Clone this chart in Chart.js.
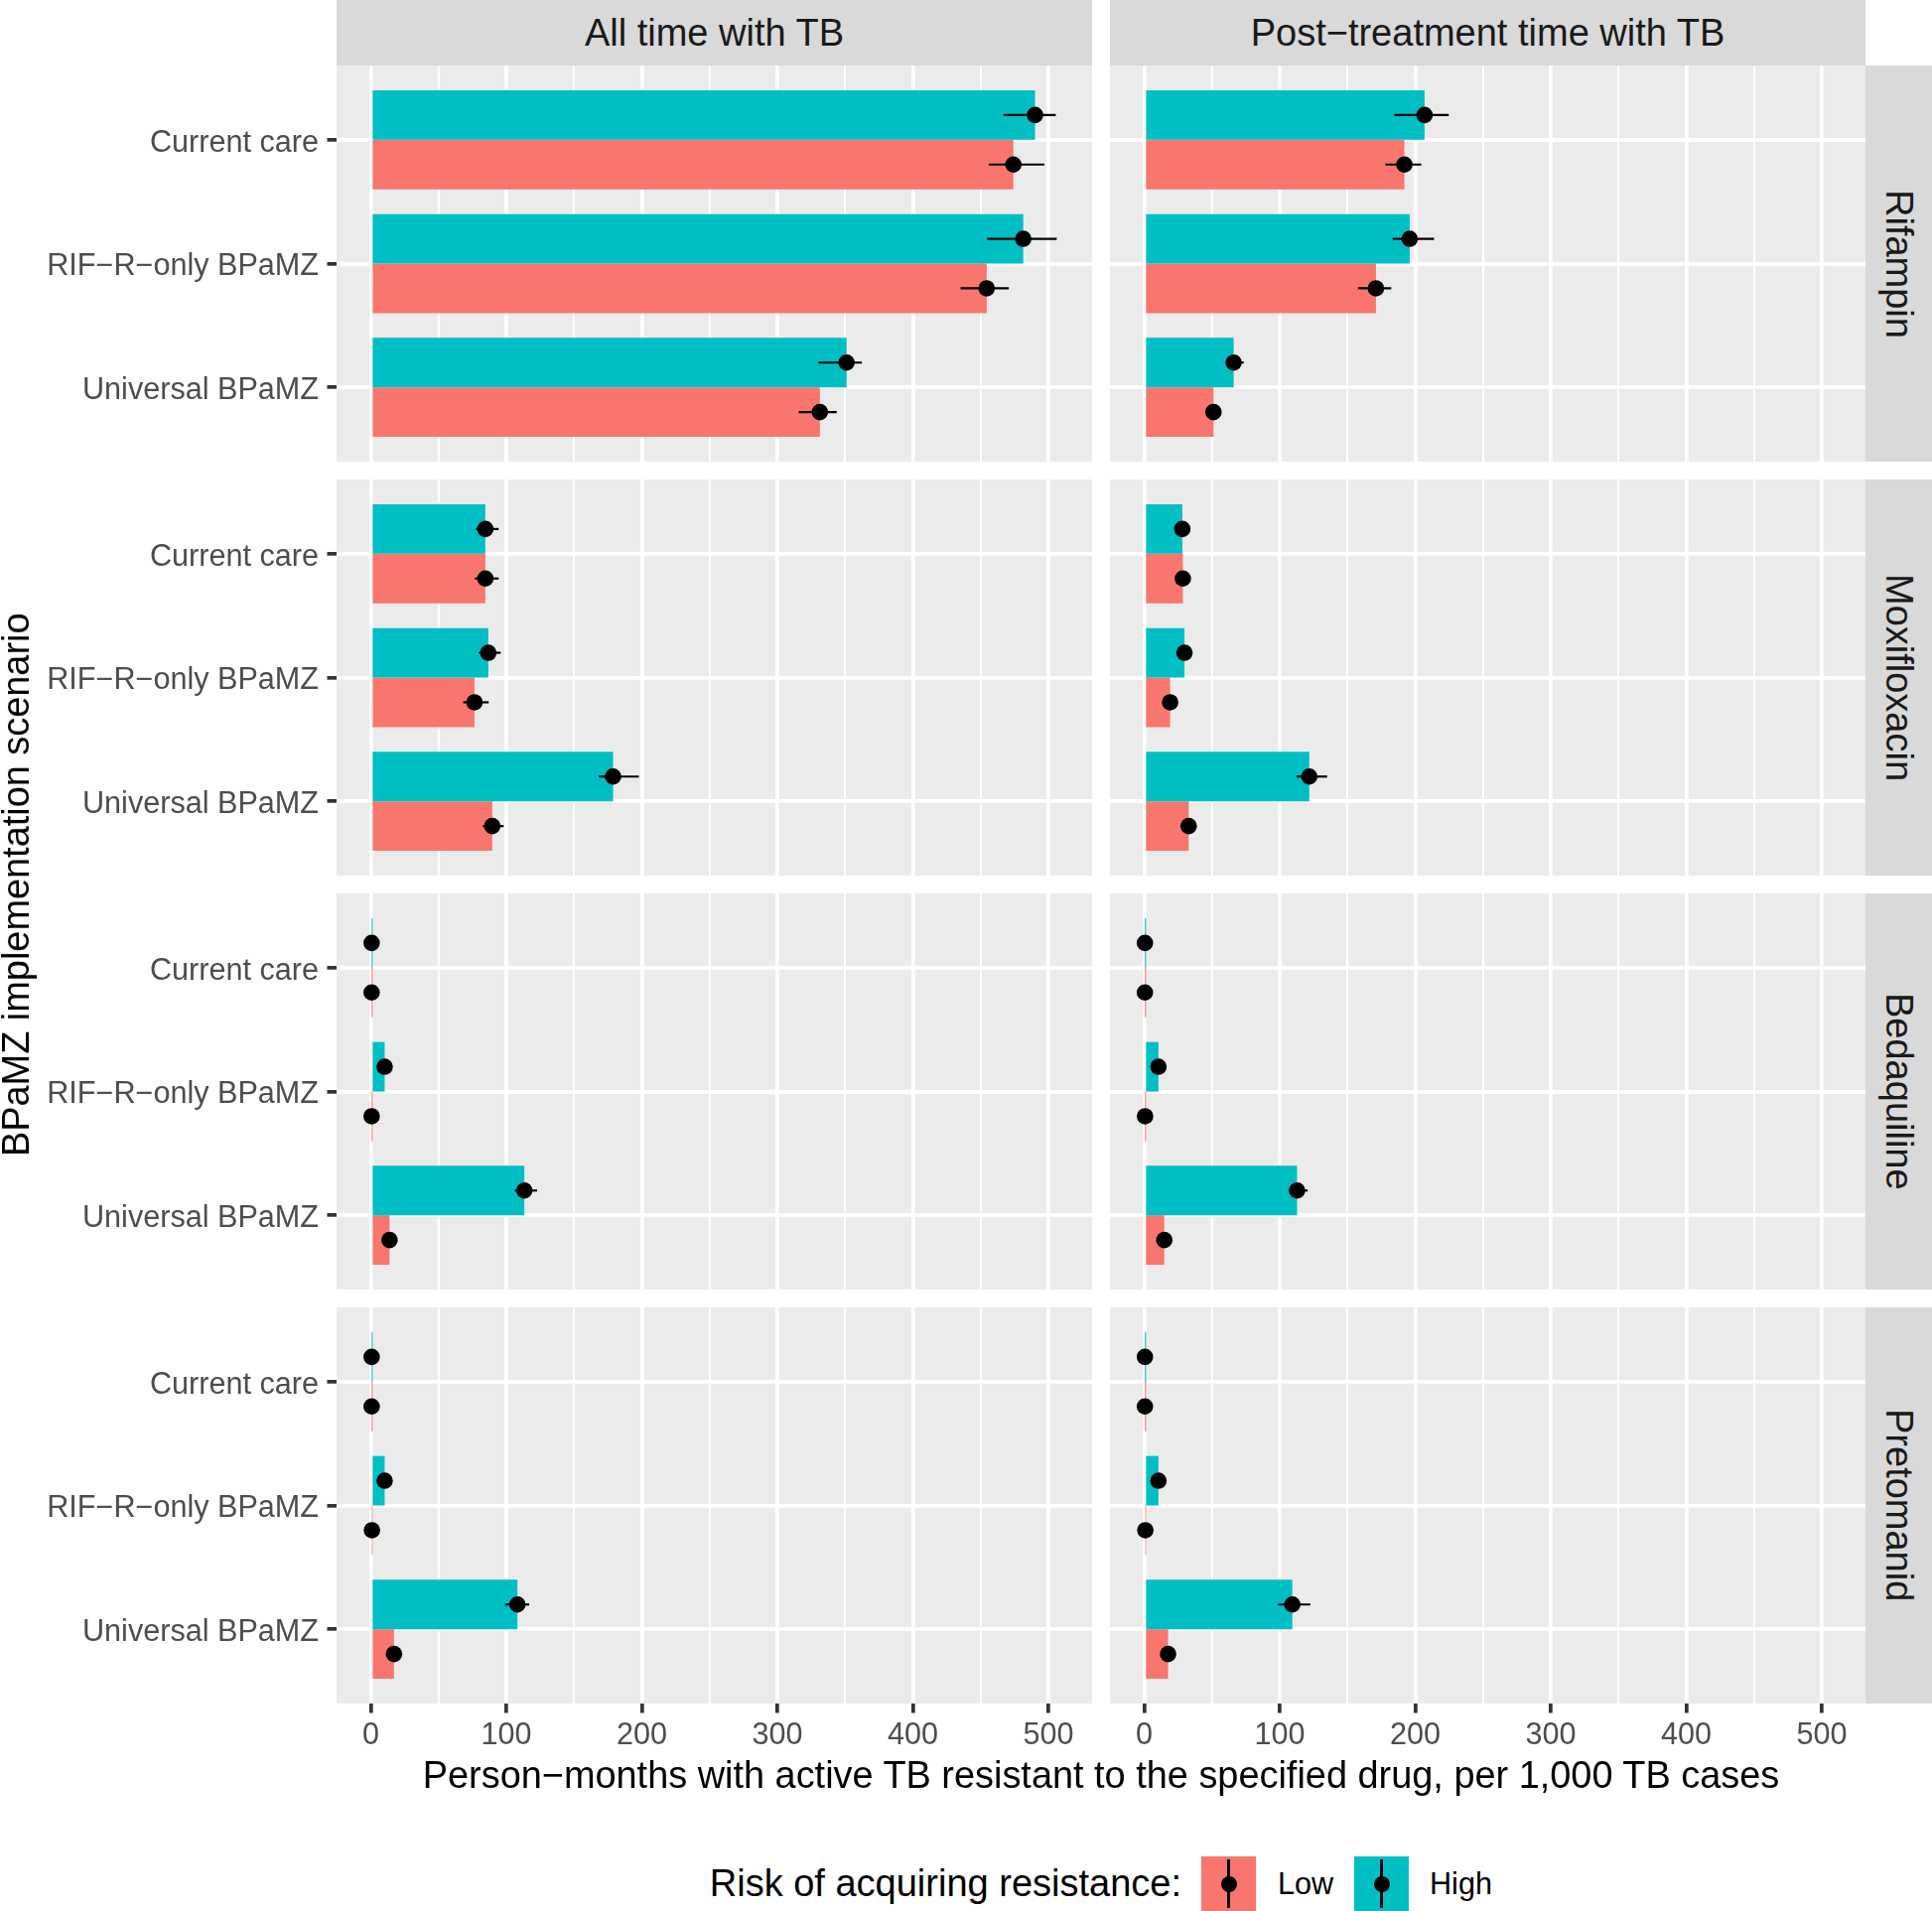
<!DOCTYPE html>
<html>
<head>
<meta charset="utf-8">
<script src="https://cdn.jsdelivr.net/npm/chart.js@4.4.1/dist/chart.umd.min.js"></script>
<style>
  html, body { margin: 0; padding: 0; background: #ffffff; }
  body { width: 1946px; height: 1925px; position: relative; overflow: hidden;
         font-family: 'Liberation Sans', Arial, Helvetica, sans-serif; }
  canvas { position: absolute; }
  .strip-top { position: absolute; background: #D9D9D9; color: #1A1A1A; font-size: 38px;
               display: flex; align-items: center; justify-content: center; }
  .strip-right { position: absolute; background: #D9D9D9; color: #1A1A1A; font-size: 38px;
                 display: flex; align-items: center; justify-content: center; writing-mode: vertical-rl; }
  .title { position: absolute; color: #000; font-size: 37.9px; display: flex; align-items: center; justify-content: center; white-space: nowrap; }
  .ytitle { writing-mode: vertical-rl; transform: rotate(180deg); }
  .legend-text { position: absolute; color: #000; display: flex; align-items: center; white-space: nowrap; }
  .key { position: absolute; width: 55px; height: 55px; }
  .key .ln { position: absolute; left: 26.4px; top: 3px; width: 2.2px; height: 49px; background: #000; }
  .key .pt { position: absolute; left: 19.5px; top: 19.5px; width: 16px; height: 16px; border-radius: 50%; background: #000; }
</style>
</head>
<body>
<script>
// ---------------- data ----------------
const categories = ['Current care', 'RIF\u2212R\u2212only BPaMZ', 'Universal BPaMZ'];
const drugs = ['Rifampin', 'Moxifloxacin', 'Bedaquiline', 'Pretomanid'];
const measures = ['All time with TB', 'Post\u2212treatment time with TB'];
const riskLevels = ['Low', 'High'];
const xMajorTicks = [0, 100, 200, 300, 400, 500];
const xMinorTicks = [50, 150, 250, 350, 450];

// Rifampin
const rifAllLow    = [474.2, 454.5, 331.4];
const rifAllLowCI  = [[456.0, 497.1], [435.2, 470.9], [315.8, 343.8]];
const rifAllHigh   = [490.2, 481.5, 351.1];
const rifAllHighCI = [[466.9, 505.5], [454.9, 506.2], [330.3, 362.4]];
const rifPostLow    = [192.0, 171.0, 51.1];
const rifPostLowCI  = [[178.0, 204.5], [157.7, 182.3], [48.5, 53.5]];
const rifPostHigh   = [206.9, 195.9, 66.0];
const rifPostHighCI = [[184.6, 224.8], [183.4, 213.9], [60.5, 73.4]];

// Moxifloxacin
const moxAllLow    = [84.5, 76.5, 89.6];
const moxAllLowCI  = [[76.8, 94.3], [68.1, 87.0], [82.7, 98.0]];
const moxAllHigh   = [84.5, 86.7, 178.8];
const moxAllHighCI = [[77.6, 94.3], [79.7, 95.8], [168.3, 197.8]];
const moxPostLow    = [28.5, 19.1, 32.8];
const moxPostLowCI  = [[26.0, 31.0], [17.0, 21.0], [30.0, 35.5]];
const moxPostHigh   = [28.1, 29.7, 121.8];
const moxPostHighCI = [[25.5, 30.5], [26.0, 33.5], [112.4, 135.0]];

// Bedaquiline
const bdqAllLow    = [0.6, 0.6, 13.8];
const bdqAllLowCI  = [[0.2, 1.0], [0.2, 1.2], [11.5, 16.0]];
const bdqAllHigh   = [0.6, 10.2, 113.3];
const bdqAllHighCI = [[0.2, 1.0], [8.5, 12.0], [106.3, 122.7]];
const bdqPostLow    = [0.5, 0.6, 14.8];
const bdqPostLowCI  = [[0.2, 0.9], [0.2, 1.2], [12.5, 17.0]];
const bdqPostHigh   = [0.5, 10.5, 112.8];
const bdqPostHighCI = [[0.2, 0.9], [8.8, 12.2], [107.0, 120.6]];

// Pretomanid
const paAllLow    = [0.6, 0.8, 17.1];
const paAllLowCI  = [[0.2, 1.0], [0.3, 1.4], [14.8, 19.5]];
const paAllHigh   = [0.6, 10.2, 108.2];
const paAllHighCI = [[0.2, 1.0], [8.5, 12.0], [99.1, 116.9]];
const paPostLow    = [0.5, 0.8, 17.6];
const paPostLowCI  = [[0.2, 0.9], [0.3, 1.4], [15.3, 20.0]];
const paPostHigh   = [0.5, 10.5, 109.3];
const paPostHighCI = [[0.2, 0.9], [8.8, 12.2], [98.7, 122.6]];

// table of panels built from the arrays above: rows = drugs, cols = measures
const panelData = [
  [{low: rifAllLow, lowCI: rifAllLowCI, high: rifAllHigh, highCI: rifAllHighCI},
   {low: rifPostLow, lowCI: rifPostLowCI, high: rifPostHigh, highCI: rifPostHighCI}],
  [{low: moxAllLow, lowCI: moxAllLowCI, high: moxAllHigh, highCI: moxAllHighCI},
   {low: moxPostLow, lowCI: moxPostLowCI, high: moxPostHigh, highCI: moxPostHighCI}],
  [{low: bdqAllLow, lowCI: bdqAllLowCI, high: bdqAllHigh, highCI: bdqAllHighCI},
   {low: bdqPostLow, lowCI: bdqPostLowCI, high: bdqPostHigh, highCI: bdqPostHighCI}],
  [{low: paAllLow, lowCI: paAllLowCI, high: paAllHigh, highCI: paAllHighCI},
   {low: paPostLow, lowCI: paPostLowCI, high: paPostHigh, highCI: paPostHighCI}]
];

// ---------------- styling / layout ----------------
const COLORS = { Low: '#F8766D', High: '#00BFC4' };
const PANEL_LEFT = [339, 1118];
const PANEL_W = 761;
const PANEL_TOP = [66, 483, 900, 1317];
const PANEL_H = 399;
const STRIP_H = 66;
const STRIP_RIGHT_X = 1879;
const STRIP_RIGHT_W = 67;
const X_AXIS_H = 70;
const X_MIN = -25.3, X_MAX = 532.3;
const Y_MIN = -0.6, Y_MAX = 2.6;
const MAJOR_LW = 3.7, MINOR_LW = 1.85;
const ERR_W = 2.2, DOT_R = 8.3;
const AXIS_FONT = 30.6;
const FONT = "'Liberation Sans', Arial, Helvetica, sans-serif";

Chart.defaults.font.family = FONT;

const panelBg = {
  id: 'panelBg',
  beforeDraw(chart) {
    const {ctx, chartArea: a} = chart;
    ctx.save();
    ctx.fillStyle = '#EBEBEB';
    ctx.fillRect(a.left, a.top, a.right - a.left, a.bottom - a.top);
    ctx.restore();
  }
};

const dotPlugin = {
  id: 'meanDots',
  afterDatasetsDraw(chart) {
    const ctx = chart.ctx;
    const xs = chart.scales.x;
    ctx.save();
    ctx.fillStyle = '#000000';
    chart.data.datasets.forEach((d, k) => {
      if (!d.isMean) return;
      const meta = chart.getDatasetMeta(k);
      meta.data.forEach((el, i) => {
        const px = xs.getPixelForValue(d.data[i].x);
        ctx.beginPath();
        ctx.arc(px, el.y, DOT_R, 0, Math.PI * 2);
        ctx.fill();
      });
    });
    ctx.restore();
  }
};

const allXTicks = [...xMajorTicks, ...xMinorTicks].sort((a, b) => a - b);
const isMajorX = v => xMajorTicks.includes(v);
const noPad = s => { s.paddingTop = 0; s.paddingBottom = 0; s.paddingLeft = 0; s.paddingRight = 0; };

function makePanel(r, c) {
  const p = panelData[r][c];
  const isBottom = r === drugs.length - 1;
  const isLeft = c === 0;
  const canvas = document.createElement('canvas');
  const cLeft = isLeft ? 0 : PANEL_LEFT[1];
  const cWidth = isLeft ? PANEL_LEFT[0] + PANEL_W : PANEL_W;
  const cHeight = PANEL_H + (isBottom ? X_AXIS_H : 0);
  canvas.width = cWidth; canvas.height = cHeight;
  canvas.style.left = cLeft + 'px';
  canvas.style.top = PANEL_TOP[r] + 'px';
  canvas.style.width = cWidth + 'px';
  canvas.style.height = cHeight + 'px';
  document.body.appendChild(canvas);

  const pts = arr => arr.map((v, i) => ({y: i, x: v}));
  const datasets = [
    {label: 'High range', data: pts(p.highCI), stack: 'High', backgroundColor: '#000000', maxBarThickness: ERR_W},
    {label: 'Low range',  data: pts(p.lowCI),  stack: 'Low',  backgroundColor: '#000000', maxBarThickness: ERR_W},
    {label: 'High', data: pts(p.high), stack: 'High', backgroundColor: COLORS.High, isMean: true},
    {label: 'Low',  data: pts(p.low),  stack: 'Low',  backgroundColor: COLORS.Low,  isMean: true}
  ];

  return new Chart(canvas, {
    type: 'bar',
    data: { datasets },
    options: {
      indexAxis: 'y',
      responsive: false,
      animation: false,
      devicePixelRatio: 1,
      layout: { padding: 0 },
      datasets: { bar: { categoryPercentage: 0.8, barPercentage: 1, borderWidth: 0 } },
      plugins: { legend: { display: false }, tooltip: { enabled: false } },
      scales: {
        x: {
          type: 'linear', position: 'bottom', min: X_MIN, max: X_MAX, stacked: false,
          border: { display: false },
          afterBuildTicks: s => { s.ticks = allXTicks.map(v => ({value: v})); },
          afterFit: s => { s.height = isBottom ? X_AXIS_H : 0; noPad(s); },
          grid: {
            color: '#FFFFFF',
            lineWidth: ctx => (ctx.tick && isMajorX(ctx.tick.value)) ? MAJOR_LW : MINOR_LW,
            drawTicks: isBottom,
            tickLength: 9.5,
            tickWidth: MAJOR_LW,
            tickColor: ctx => (ctx.tick && isMajorX(ctx.tick.value)) ? '#333333' : 'rgba(0,0,0,0)'
          },
          ticks: {
            display: isBottom, autoSkip: false, maxRotation: 0, minRotation: 0, padding: 5,
            color: '#4D4D4D', font: { size: AXIS_FONT, family: FONT },
            callback: v => isMajorX(v) ? String(v) : ''
          }
        },
        y: {
          type: 'linear', position: 'left', min: Y_MIN, max: Y_MAX, reverse: true, offset: false,
          border: { display: false },
          afterBuildTicks: s => { s.ticks = categories.map((_, i) => ({value: i})); },
          afterFit: s => { s.width = isLeft ? PANEL_LEFT[0] : 0; noPad(s); },
          grid: {
            offset: false, color: '#FFFFFF', lineWidth: MAJOR_LW,
            drawTicks: isLeft, tickLength: 9.5, tickWidth: MAJOR_LW, tickColor: '#333333'
          },
          ticks: {
            display: isLeft, padding: 8.5, labelOffset: 3.5, color: '#4D4D4D', font: { size: AXIS_FONT, family: FONT },
            callback: v => categories[v]
          }
        }
      }
    },
    plugins: [panelBg, dotPlugin]
  });
}

function addDiv(cls, text, style) {
  const d = document.createElement('div');
  d.className = cls;
  if (text !== null) d.textContent = text;
  Object.assign(d.style, style);
  document.body.appendChild(d);
  return d;
}

// facet strips
measures.forEach((m, c) => {
  addDiv('strip-top', m, { left: PANEL_LEFT[c] + 'px', top: '0px', width: PANEL_W + 'px', height: STRIP_H + 'px' });
});
drugs.forEach((d, r) => {
  addDiv('strip-right', d, { left: STRIP_RIGHT_X + 'px', top: PANEL_TOP[r] + 'px', width: STRIP_RIGHT_W + 'px', height: PANEL_H + 'px' });
});

// panels
for (let r = 0; r < drugs.length; r++) {
  for (let c = 0; c < measures.length; c++) makePanel(r, c);
}

// axis titles
addDiv('title', 'Person\u2212months with active TB resistant to the specified drug, per 1,000 TB cases',
  { left: PANEL_LEFT[0] + 'px', top: '1766px', width: (PANEL_LEFT[1] + PANEL_W - PANEL_LEFT[0]) + 'px', height: '44px' });
addDiv('title ytitle', 'BPaMZ implementation scenario',
  { left: '0px', top: PANEL_TOP[0] + 'px', width: '34px', height: (PANEL_TOP[3] + PANEL_H - PANEL_TOP[0]) + 'px' });

// legend
addDiv('legend-text', 'Risk of acquiring resistance:',
  { right: (1946 - 1190) + 'px', top: '1870px', height: '55px', fontSize: '38px' });
const keyX = { Low: 1210, High: 1364 };
const labelX = { Low: 1287, High: 1440 };
riskLevels.forEach(lv => {
  const k = addDiv('key', null, { left: keyX[lv] + 'px', top: '1870px', background: COLORS[lv] });
  const ln = document.createElement('div'); ln.className = 'ln'; k.appendChild(ln);
  const pt = document.createElement('div'); pt.className = 'pt'; k.appendChild(pt);
  addDiv('legend-text', lv, { left: labelX[lv] + 'px', top: '1870px', height: '55px', fontSize: '30.6px' });
});
</script>
</body>
</html>
